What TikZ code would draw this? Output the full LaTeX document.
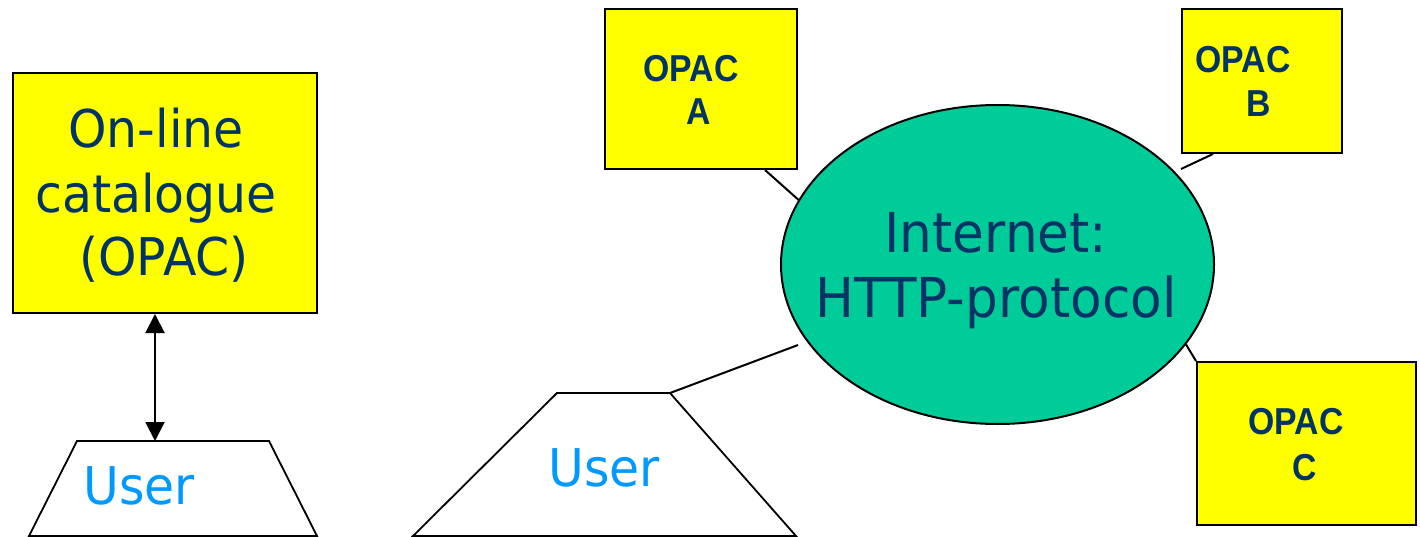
\documentclass[tikz,border=0pt]{standalone}
\usepackage{fontspec}
\setmainfont{DejaVu Sans}[FakeStretch=0.94]
\newfontfamily\opacfont{Liberation Sans}[FakeStretch=0.9]
\usetikzlibrary{shapes.geometric,arrows.meta}
\definecolor{txtblue}{HTML}{003366}
\definecolor{userblue}{HTML}{0099FF}
\definecolor{netgreen}{HTML}{00CC99}
\definecolor{boxyellow}{HTML}{FFFF00}
\begin{document}
\begin{tikzpicture}[x=1pt,y=-1pt,
  ybox/.style={draw=black,line width=2pt,fill=boxyellow,inner sep=0pt,rectangle},
  bigtxt/.style={inner sep=0pt,anchor=base,text=txtblue,font=\fontsize{52}{62}\selectfont},
  nettxt/.style={inner sep=0pt,anchor=base,text=txtblue,font=\fontsize{55}{66}\selectfont},
  usertxt/.style={inner sep=0pt,anchor=base,text=userblue,font=\fontsize{52}{62}\selectfont},
  opactxt/.style={inner sep=0pt,anchor=base,text=txtblue,font=\opacfont\bfseries\fontsize{37.5}{45}\selectfont},
  conn/.style={draw=black,line width=2pt},
  trap/.style={draw=black,line width=1.8pt,line join=miter},
  dblarrow/.style={draw=black,line width=2pt,{Triangle[length=19pt,width=19pt]}-{Triangle[length=19pt,width=19pt]}}]
\useasboundingbox (0,0) rectangle (1420,537);

% left part
\node[ybox,minimum width=304pt,minimum height=240pt] (catbox) at (165,193) {};
\node[bigtxt] (cat1) at (156,148) {On-line};
\node[bigtxt] (cat2) at (156,213) {catalogue};
\node[bigtxt] (cat3) at (164,275) {(OPAC)};

\coordinate (uLtl) at (77,441);
\coordinate (uLtr) at (269,441);
\coordinate (uLbr) at (317,536);
\coordinate (uLbl) at (29,536);
\coordinate (uLtop) at (155,441);
\draw[trap] (uLtl) -- (uLtr) -- (uLbr) -- (uLbl) -- cycle;
\node[usertxt] (userL) at (139,504) {User};

\draw[dblarrow] ([xshift=-10pt]catbox.south) -- (uLtop);

% right part
\node[ellipse,draw=black,line width=2pt,fill=netgreen,minimum width=433pt,minimum height=319pt,inner sep=0pt] (net) at (997.5,264.5) {};
\node[nettxt] (net1) at (996,252) {Internet:};
\node[nettxt] (net2) at (996,317) {HTTP-protocol};

\node[ybox,minimum width=192pt,minimum height=160pt] (opacA) at (701,89) {};
\node[opactxt] (opacA1) at (691,82) {OPAC};
\node[opactxt] (opacA2) at (699,125) {A};

\node[ybox,minimum width=160pt,minimum height=144pt] (opacB) at (1262,81) {};
\node[opactxt] (opacB1) at (1243,73) {OPAC};
\node[opactxt] (opacB2) at (1259,117) {B};

\node[ybox,minimum width=219pt,minimum height=163pt] (opacC) at (1306.5,443.5) {};
\node[opactxt] (opacC1) at (1296,434) {OPAC};
\node[opactxt] (opacC2) at (1305,480) {C};

\coordinate (uRtl) at (557,393);
\coordinate (uRtr) at (670,393);
\coordinate (uRbr) at (796,536);
\coordinate (uRbl) at (413,536);
\draw[trap] (uRtl) -- (uRtr) -- (uRbr) -- (uRbl) -- cycle;
\node[usertxt] (userR) at (604,486) {User};

\coordinate (bEnd) at (1181,169);
\coordinate (uEnd) at (798,345);
\draw[conn] ([xshift=64pt]opacA.south) -- (net.162.6);
\draw[conn] ([xshift=-49pt]opacB.south) -- (bEnd);
\draw[conn] (net.-23.6) -- (opacC.north west);
\draw[conn] (uRtr) -- (uEnd);
\end{tikzpicture}
\end{document}
